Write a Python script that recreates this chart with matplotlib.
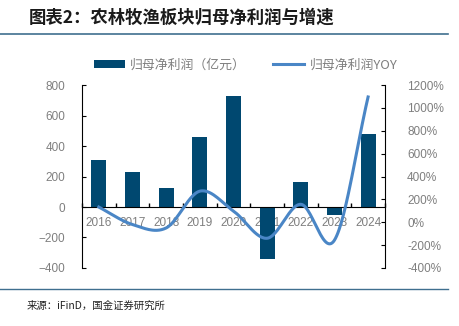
import numpy as np
import matplotlib.pyplot as plt
from matplotlib.ticker import FuncFormatter, MultipleLocator

plt.rcParams['font.family'] = ['Liberation Sans', 'Noto Sans CJK SC', 'DejaVu Sans']

years = ['2016', '2017', '2018', '2019', '2020', '2021', '2022', '2023', '2024']
profit = [308, 230, 126, 460, 730, -340, 165, -52, 480]
yoy = [133, -20, -50, 272, 98, -140, 157, -157, 1096]

bar_color = '#004870'
line_color = '#4A86C6'
grey = '#7F7F7F'
cjk = ['Noto Sans CJK SC', 'DejaVu Sans']


def catmull_rom(x, y, n=30):
    # smooth line through every point, like the spreadsheet "smoothed line"
    x = np.asarray(x, float)
    y = np.asarray(y, float)
    px = np.concatenate([[2 * x[0] - x[1]], x, [2 * x[-1] - x[-2]]])
    py = np.concatenate([[2 * y[0] - y[1]], y, [2 * y[-1] - y[-2]]])
    xs, ys = [], []
    t = np.linspace(0, 1, n)
    for i in range(1, len(px) - 2):
        for p, out in ((px, xs), (py, ys)):
            p0, p1, p2, p3 = p[i - 1], p[i], p[i + 1], p[i + 2]
            out.extend(0.5 * (2 * p1 + (-p0 + p2) * t
                              + (2 * p0 - 5 * p1 + 4 * p2 - p3) * t ** 2
                              + (-p0 + 3 * p1 - 3 * p2 + p3) * t ** 3))
    return np.array(xs), np.array(ys)


fig = plt.figure(figsize=(4.59, 3.26), dpi=100)

# header / footer
fig.text(0.062, 0.945, '图表2：农林牧渔板块归母净利润与增速', fontsize=12.5, fontweight='bold',
         color='#1A1A1A', family=cjk, va='center')
fig.add_artist(plt.Line2D([0, 0.975], [0.896, 0.896], color='#3F6F8F', lw=1.2))
fig.add_artist(plt.Line2D([0, 0.975], [0.112, 0.112], color='#3F6F8F', lw=1.0))
fig.text(0.058, 0.063, '来源：iFinD，国金证券研究所', fontsize=7.5, color='#222222',
         family=cjk, va='center')

ax = fig.add_axes([0.1786, 0.178, 0.66, 0.561])
x = np.arange(len(years))
ax.bar(x, profit, width=0.45, color=bar_color, label='归母净利润（亿元）', zorder=2)
ax.set_xlim(-0.5, len(years) - 0.5)
ax.set_ylim(-400, 800)
ax.yaxis.set_major_locator(MultipleLocator(200))

ax.spines['top'].set_visible(False)
ax.spines['right'].set_visible(False)
ax.spines['bottom'].set_position(('data', 0))
ax.set_xticks(x)
ax.set_xticklabels(years)
ax.set_xticks(np.arange(-0.5, len(years), 1), minor=True)
ax.tick_params(axis='x', which='major', length=0, labelsize=8.5, labelcolor=grey, pad=7)
ax.tick_params(axis='x', which='minor', length=3, direction='in', width=1)
ax.tick_params(axis='y', direction='in', length=3, labelsize=8.5, labelcolor=grey, pad=12)

ax2 = ax.twinx()
sx, sy = catmull_rom(x, yoy)
ax2.plot(sx, sy, color=line_color, lw=2.2, label='归母净利润YOY', zorder=3)
ax2.set_ylim(-400, 1200)
ax2.yaxis.set_major_locator(MultipleLocator(200))
ax2.yaxis.set_major_formatter(FuncFormatter(lambda v, p: f'{v:.0f}%'))
ax2.tick_params(axis='y', direction='in', length=3, labelsize=8.5, labelcolor=grey, pad=16)
ax2.spines['top'].set_visible(False)
ax2.spines['left'].set_visible(False)
ax2.spines['bottom'].set_visible(False)

h1, l1 = ax.get_legend_handles_labels()
h2, l2 = ax2.get_legend_handles_labels()
fig.legend(h1 + h2, l1 + l2, loc='center', bbox_to_anchor=(0.535, 0.800), ncol=2,
           frameon=False, labelcolor=grey, handlelength=2.4, handletextpad=0.4,
           handleheight=0.6, columnspacing=2.1, prop={'family': cjk, 'size': 9.3})

fig.savefig('out.png', dpi=100)
